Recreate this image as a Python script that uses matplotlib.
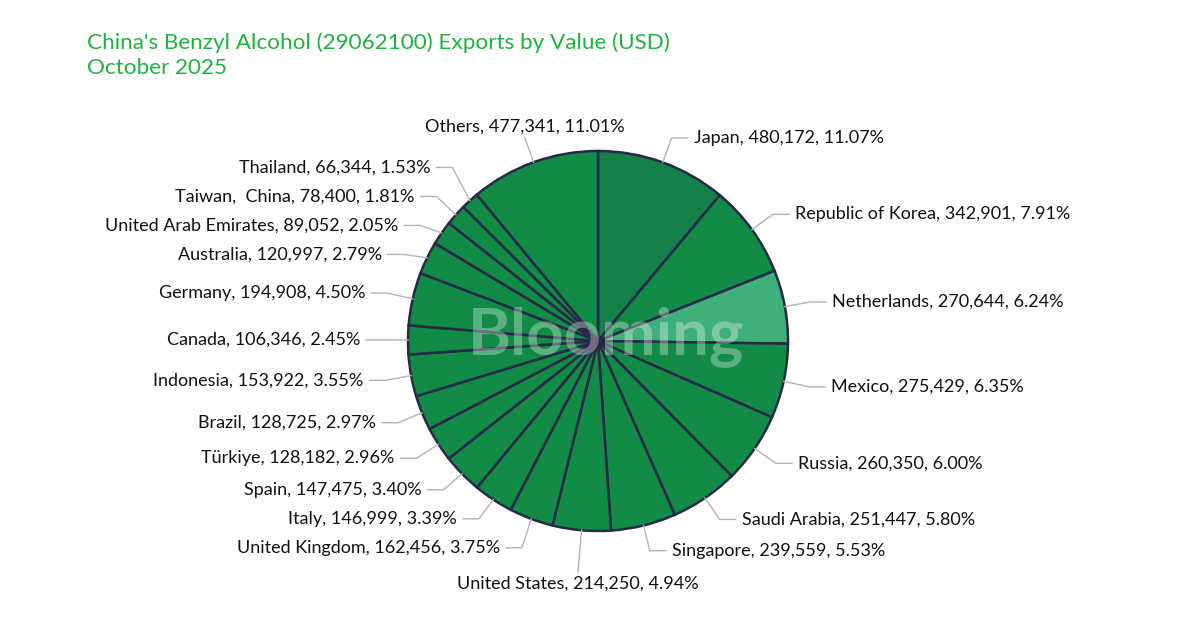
#!/usr/bin/env python3
import numpy as np
import matplotlib.pyplot as plt

plt.rcParams["font.family"] = ["Lato", "DejaVu Sans"]

# data (clockwise from 12 o'clock)
countries = [
    "Japan", "Republic of Korea", "Netherlands", "Mexico", "Russia",
    "Saudi Arabia", "Singapore", "United States", "United Kingdom", "Italy",
    "Spain", "Türkiye", "Brazil", "Indonesia", "Canada", "Germany",
    "Australia", "United Arab Emirates", "Taiwan,  China", "Thailand", "Others",
]
values = [
    480172, 342901, 270644, 275429, 260350,
    251447, 239559, 214250, 162456, 146999,
    147475, 128182, 128725, 153922, 106346, 194908,
    120997, 89052, 78400, 66344, 477341,
]

BASE = "#118b45"
COLORS = {"Japan": "#15804a", "Netherlands": "#3fb07a"}
EDGE = "#262a48"
LINE = "#b4b4b4"
TITLE = "#1db33f"

W, H = 1200, 629
CX, CY, R = 598, H - 341, 190
LEN1, LEN2, GAP = 26, 16, 6
MIN_DY = 29
FS = 13


def spread(ys, min_dy):
    # push labels apart, keeping them near their natural spots
    ys = list(ys)
    for _ in range(500):
        moved = False
        for i in range(len(ys) - 1):
            d = ys[i + 1] - ys[i]
            if d < min_dy - 0.01:
                shift = (min_dy - d) / 2
                ys[i] -= shift
                ys[i + 1] += shift
                moved = True
        if not moved:
            break
    return ys


def main():
    fig = plt.figure(figsize=(W / 100, H / 100), dpi=100)
    ax = fig.add_axes([0, 0, 1, 1])
    ax.axis("off")

    colors = [COLORS.get(c, BASE) for c in countries]
    ax.pie(
        values,
        colors=colors,
        startangle=90,
        counterclock=False,
        radius=R,
        center=(CX, CY),
        wedgeprops=dict(edgecolor=EDGE, linewidth=1.8),
    )
    ax.set_xlim(0, W)
    ax.set_ylim(0, H)
    ax.set_aspect("equal")

    total = sum(values)
    labels = [
        f"{c}, {v:,}, {v / total * 100:.2f}%" for c, v in zip(countries, values)
    ]

    cum = np.cumsum(values) - np.array(values) / 2
    theta = cum / total * 2 * np.pi  # clockwise from top

    items = []
    for i, t in enumerate(theta):
        s, c = np.sin(t), np.cos(t)
        items.append(
            dict(
                i=i,
                s=s,
                c=c,
                ax=CX + R * s,
                ay=CY + R * c,
                ex=CX + (R + LEN1) * s,
                ey=CY + (R + LEN1) * c,
                bottom=abs(s) < 0.1 and c < 0,
            )
        )

    for side in (1, -1):
        group = [it for it in items if it["s"] * side > 0 and not it["bottom"]]
        group.sort(key=lambda it: -it["ey"])
        ys = spread([-it["ey"] for it in group], MIN_DY)
        for it, y in zip(group, ys):
            it["ey"] = -y
            it["side"] = side

    for it in items:
        lab = labels[it["i"]]
        if it["bottom"]:
            px = CX + (R + LEN1 + LEN2) * it["s"]
            py = CY + (R + LEN1 + LEN2) * it["c"]
            ax.plot([it["ax"], px], [it["ay"], py], color=LINE, lw=1)
            ax.text(px, py - 3, lab, ha="center", va="top", fontsize=FS,
                    color="#111111")
        elif it["side"] < 0 and it["ey"] > CY + R:
            # top of the crowded left column: sit on top of the leader
            ax.plot([it["ax"], it["ex"]], [it["ay"], it["ey"]], color=LINE, lw=1)
            ax.text(it["ex"], it["ey"] + 3, lab, ha="center", va="bottom",
                    fontsize=FS, color="#111111")
        else:
            side = it["side"]
            hx = it["ex"] + side * LEN2
            ax.plot([it["ax"], it["ex"], hx], [it["ay"], it["ey"], it["ey"]],
                    color=LINE, lw=1)
            ax.text(hx + side * GAP, it["ey"], lab,
                    ha="left" if side > 0 else "right", va="center",
                    fontsize=FS, color="#111111")

    # watermark
    ax.text(CX + 8, CY + 4, "Blooming", ha="center", va="center", fontsize=47,
            fontweight="bold", color="white", alpha=0.32, zorder=5)

    fig.text(87 / W, 1 - 43 / H,
             "China's Benzyl Alcohol (29062100) Exports by Value (USD)",
             fontsize=16.2, color=TITLE, ha="left", va="center")
    fig.text(87 / W, 1 - 68 / H, "October 2025",
             fontsize=16.2, color=TITLE, ha="left", va="center")

    fig.savefig("out.png", dpi=100)


if __name__ == "__main__":
    main()
